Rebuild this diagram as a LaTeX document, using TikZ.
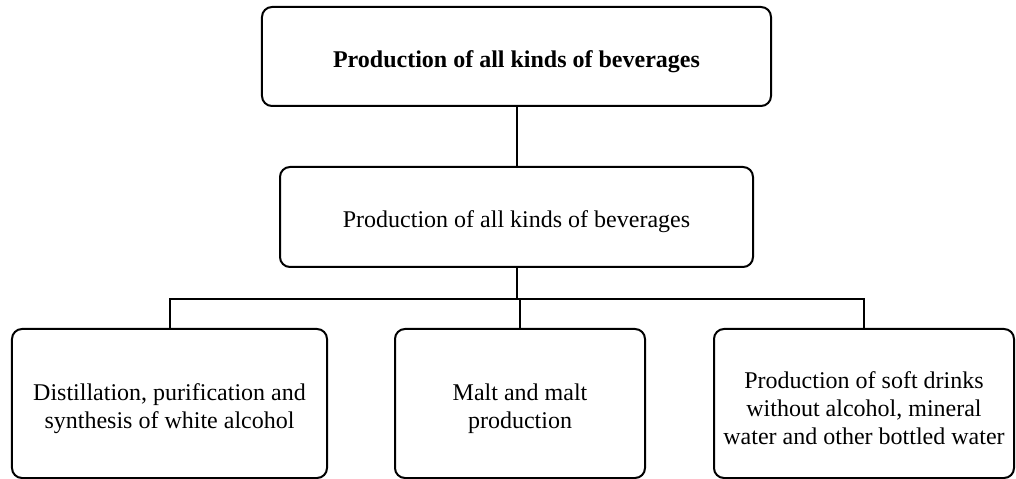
\documentclass[tikz,border=0pt]{standalone}
\usepackage{fontspec}
\setmainfont{Liberation Serif}
\usetikzlibrary{positioning}
\tikzset{%Global config
	>=latex,
	color = black ,
	%Styles
	Box/.style={
		draw,
		line width=2bp,
		rounded corners=10bp,
		inner sep=0pt,
	},
	Txt/.style={
		align=center,
		inner sep=0pt,
		yshift=-5bp,
		font=\fontsize{24bp}{28bp}\selectfont,
	},
	Link/.style={
		line width=2bp,
	}
}

\begin{document}
\begin{tikzpicture}[x=1bp,y=-1bp]
		\useasboundingbox (0,0) rectangle (1016,479);
		% Levels
		\node[Box, minimum width=509bp, minimum height=99bp,
			label={[Txt]center:\textbf{Production of all kinds of beverages}}] (top) at (516.5,56.5) {};
		\node[Box, minimum width=473bp, minimum height=100bp,
			label={[Txt]center:Production of all kinds of beverages}] (mid) at (516.5,217) {};
		\node[Box, minimum width=315bp, minimum height=149bp,
			label={[Txt]center:Distillation, purification and\\synthesis of white alcohol}] (alco) at (169.5,403.5) {};
		\node[Box, minimum width=250bp, minimum height=149bp,
			label={[Txt]center:Malt and malt\\production}] (malt) at (520,403.5) {};
		\node[Box, minimum width=300bp, minimum height=149bp,
			label={[Txt]center:Production of soft drinks\\without alcohol, mineral\\water and other bottled water}] (soft) at (864,403.5) {};
		
		\coordinate (bus) at (516.5,299);
		\draw[Link] (top) -- (mid);
		\draw[Link] (mid) -- (bus);
		\draw[Link] (alco.north) |- (bus) -| (soft.north);
		\draw[Link] (bus -| malt.north) -- (malt.north);
	\end{tikzpicture}
\end{document}
